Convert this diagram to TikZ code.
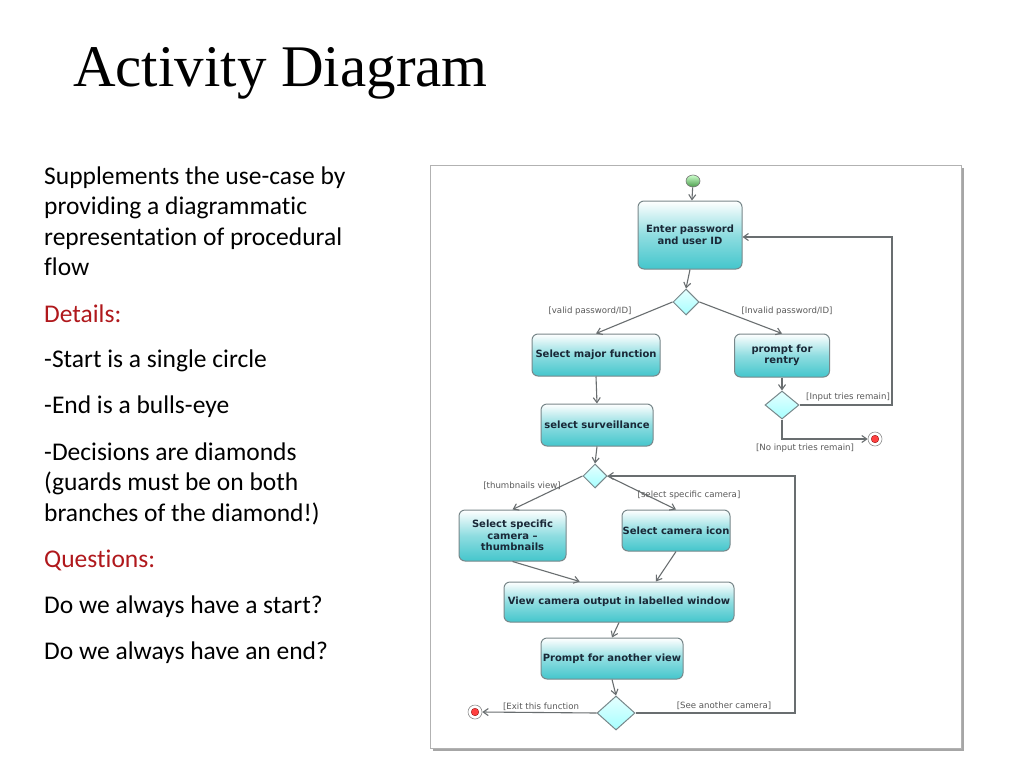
\documentclass[tikz,border=0pt]{standalone}
\usepackage{fontspec}
\setmainfont{Carlito}[Ligatures=NoCommon]
\newfontfamily\titlefont{Liberation Serif}
\newfontfamily\diagfont{DejaVu Sans}
\usetikzlibrary{shapes.geometric,arrows.meta,calc}
\definecolor{boxteal}{RGB}{68,198,204}
\definecolor{boxedge}{RGB}{120,135,138}
\definecolor{boxtext}{RGB}{25,40,55}
\definecolor{redhead}{RGB}{176,24,28}
\definecolor{linegray}{RGB}{105,110,112}
\begin{document}
\begin{tikzpicture}[x=1pt,y=-1pt,
  actbox/.style={draw=boxedge, line width=1pt, rounded corners=6pt, top color=white, bottom color=boxteal, middle color=boxteal!60, align=center, inner sep=0pt, font=\diagfont\bfseries\fontsize{10}{11.5}\selectfont, text=boxtext},
  decis/.style={diamond, draw=boxedge, line width=1pt, top color=white!90!cyan, bottom color=cyan!35!white, inner sep=0pt},
  arr/.style={draw=linegray, line width=1.1pt, -{Straight Barb[length=5pt,width=7pt]}},
  guard/.style={font=\diagfont\fontsize{8.6}{10}\selectfont, text=black!65, inner sep=0pt},
  body/.style={anchor=base west, inner sep=0pt, font=\fontsize{25.5}{30}\selectfont},
  redbody/.style={body, text=redhead}
]
\useasboundingbox (0,0) rectangle (1024,768);
\fill[white] (0,0) rectangle (1024,768);
% title
\node[anchor=base west, inner sep=0pt, font=\titlefont\fontsize{59}{66}\selectfont] (title) at (73,86) {Activity Diagram};
% left text
\node[body] (t1) at (44,184) {Supplements the use-case by};
\node[body] (t2) at (44,214) {providing a diagrammatic};
\node[body] (t3) at (44,245) {representation of procedural};
\node[body] (t4) at (44,275) {flow};
\node[redbody] (t5) at (44,322) {Details:};
\node[body] (t6) at (44,367) {-Start is a single circle};
\node[body] (t7) at (44,413) {-End is a bulls-eye};
\node[body] (t8) at (44,460) {-Decisions are diamonds};
\node[body] (t9) at (44,490) {(guards must be on both};
\node[body] (t10) at (44,521) {branches of the diamond!)};
\node[redbody] (t11) at (44,567) {Questions:};
\node[body] (t12) at (44,613) {Do we always have a start?};
\node[body] (t13) at (44,659) {Do we always have an end?};
% frame
\fill[black!35] (433,168) rectangle (964,751);
\draw[draw=black!30, fill=white, line width=0.8pt] (430,165) rectangle (961,748);
% nodes
\node[ellipse, draw=black!55, line width=0.6pt, top color=green!20!white, bottom color=green!45!black!70, minimum width=14, minimum height=12, inner sep=0pt] (start) at (693,181) {};
\node[actbox, minimum width=104, minimum height=68] (enter) at (690,235) {Enter password\\and user ID};
\node[decis, minimum width=26, minimum height=26] (d1) at (686,302) {};
\node[actbox, minimum width=128, minimum height=42] (major) at (596,355) {Select major function};
\node[actbox, minimum width=95, minimum height=43] (prompt) at (782,355.5) {prompt for\\rentry};
\node[decis, minimum width=34, minimum height=28] (d2) at (782,405) {};
\node[circle, draw=black!45, fill=white, line width=0.6pt, minimum size=14, inner sep=0pt] (end1) at (875,439) {};
\fill[red!75!white, draw=red!50!black, line width=0.3pt] (end1.center) circle (3.8);
\node[actbox, minimum width=112, minimum height=42] (surv) at (597,425) {select surveillance};
\node[decis, minimum width=24, minimum height=24] (d3) at (595,476) {};
\node[actbox, minimum width=107, minimum height=51] (thumb) at (512.5,535.5) {Select specific\\camera –\\thumbnails};
\node[actbox, minimum width=108, minimum height=41] (icon) at (676,530.5) {Select camera icon};
\node[actbox, minimum width=230, minimum height=40] (view) at (619,602) {View camera output in labelled window};
\node[actbox, minimum width=142, minimum height=41] (another) at (612,658.5) {Prompt for another view};
\node[decis, minimum width=38, minimum height=34] (d4) at (616,713) {};
\node[circle, draw=black!45, fill=white, line width=0.6pt, minimum size=14, inner sep=0pt] (end2) at (475,712) {};
\fill[red!75!white, draw=red!50!black, line width=0.3pt] (end2.center) circle (3.8);
% helper coordinates
\coordinate (rt1) at (892,237);
\coordinate (rt2) at (795,476);
% edges
\draw[arr] (start) -- (enter);
\draw[arr] (enter.south) -- (d1.north);
\draw[arr] (d1.west) -- (major.north);
\draw[arr] (d1.east) -- (prompt.north);
\draw[arr] (prompt.south) -- (d2.north);
\draw[arr] (d2.east) -| (rt1) -- (rt1 -| enter.east);
\draw[arr] (d2.south) |- (end1.west);
\draw[arr] (major.south) -- (surv.north);
\draw[arr] (surv.south) -- (d3.north);
\draw[arr] (d3.west) -- (thumb.north);
\draw[arr] (d3.east) -- (icon.north);
\draw[arr] (thumb.south) -- ($(view.north west)!0.33!(view.north east)$);
\draw[arr] (icon.south) -- ($(view.north west)!0.66!(view.north east)$);
\draw[arr] (view.south) -- (another.north);
\draw[arr] (another.south) -- (d4.north);
\draw[arr] (d4.west) -- (end2.east);
\draw[arr] (d4.east) -| (rt2) -- (d3.east);
% guards
\node[guard] (g1) at (590,311) {[valid password/ID]};
\node[guard] (g2) at (787,311) {[Invalid password/ID]};
\node[guard, anchor=west] (g3) at (806,397) {[Input tries remain]};
\node[guard] (g4) at (805,448) {[No input tries remain]};
\node[guard] (g5) at (522,486) {[thumbnails view]};
\node[guard] (g6) at (689,495) {[select specific camera]};
\node[guard] (g7) at (541,707) {[Exit this function};
\node[guard] (g8) at (724,706) {[See another camera]};
\end{tikzpicture}
\end{document}
